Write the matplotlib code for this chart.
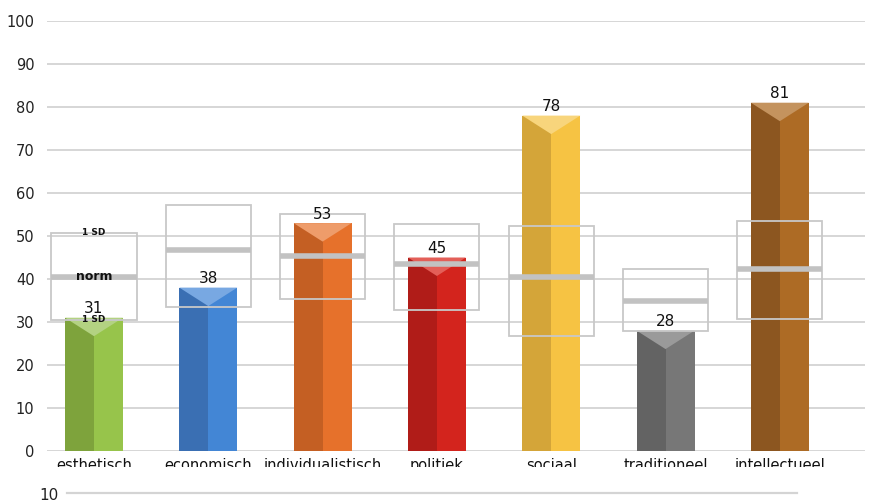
import numpy as np
import matplotlib.pyplot as plt
from matplotlib.patches import Rectangle, Polygon
from matplotlib.lines import Line2D

categories = ["esthetisch", "economisch", "individualistisch", "politiek",
              "sociaal", "traditioneel", "intellectueel"]
scores = [31, 38, 53, 45, 78, 28, 81]
norm = [40.5, 46.7, 45.3, 43.5, 40.5, 34.9, 42.3]
sd_high = [50.7, 57.2, 55.1, 52.8, 52.3, 42.3, 53.5]
sd_low = [30.5, 33.5, 35.3, 32.8, 26.7, 27.9, 30.7]
yticks = [0, 10, 20, 30, 40, 50, 60, 70, 80, 90, 100]

left_col = ["#7ea33c", "#3a6fb3", "#c45f23", "#b01c18", "#d4a539", "#636363", "#8c5620"]
right_col = ["#97c44b", "#4386d5", "#e6712b", "#d3241d", "#f6c343", "#777777", "#ad6b25"]
top_col = ["#b3d282", "#78a8e2", "#ee9c6a", "#e35f58", "#f8d57c", "#9a9a9a", "#c4935e"]

W, H = 870, 503
fig = plt.figure(figsize=(W / 100, H / 100), dpi=100)
ax = fig.add_axes([47 / W, (H - 451) / H, (865 - 47) / W, (451 - 21) / H])

ax.set_xlim(-0.411, 6.745)
ax.set_ylim(0, 100)
for s in ax.spines.values():
    s.set_visible(False)
ax.set_yticks(yticks)
ax.set_yticklabels([str(t) for t in yticks], fontsize=10.5, color="#222222")
ax.tick_params(axis="y", length=0, pad=9)
ax.set_xticks(range(len(categories)))
ax.set_xticklabels(categories, fontsize=10.5, color="#111111")
ax.tick_params(axis="x", length=0, pad=5)
ax.grid(axis="y", color="#d6d6d6", linewidth=1.4, zorder=0)
ax.set_axisbelow(True)

bw = 0.507
bx = 0.745
tri = 4.3
for i, v in enumerate(scores):
    x0 = i - bw / 2
    ax.add_patch(Rectangle((x0, 0), bw / 2, v, facecolor=left_col[i], edgecolor="none", zorder=2))
    ax.add_patch(Rectangle((i, 0), bw / 2, v, facecolor=right_col[i], edgecolor="none", zorder=2))
    ax.add_patch(Polygon([(x0, v), (x0 + bw, v), (i, v - tri)], closed=True,
                         facecolor=top_col[i], edgecolor="none", zorder=3))
    ax.annotate(str(v), (i, v), xytext=(0, 1), textcoords="offset points",
                ha="center", va="bottom", fontsize=11, color="#111111", zorder=6)
    # norm box
    ax.add_patch(Rectangle((i - bx / 2, sd_low[i]), bx, sd_high[i] - sd_low[i],
                           facecolor="none", edgecolor="#c8c8c8", linewidth=1.3, zorder=4))
    ax.plot([i - bx / 2, i + bx / 2], [norm[i], norm[i]], color="#c2c2c2",
            linewidth=4, solid_capstyle="butt", zorder=5)

ax.text(0, sd_high[0], "1 SD", ha="center", va="center", fontsize=6.5,
        fontweight="bold", color="#111111", zorder=7)
ax.text(0, sd_low[0], "1 SD", ha="center", va="center", fontsize=6.5,
        fontweight="bold", color="#111111", zorder=7)
ax.text(0, norm[0], "norm", ha="center", va="center", fontsize=9,
        fontweight="bold", color="#111111", zorder=7)

# cut-off bottom of the labels and start of the next chart
fig.patches.append(Rectangle((0, (H - 486) / H), 1, 19 / H, transform=fig.transFigure,
                             facecolor="white", edgecolor="none", zorder=10))
fig.text(49 / W, (H - 495) / H, "10", ha="center", va="center", fontsize=11,
         color="#222222", zorder=11)
fig.lines.append(Line2D([67 / W, 797 / W], [(H - 493) / H] * 2, transform=fig.transFigure,
                        color="#d4d4d4", linewidth=1.6, zorder=11))

fig.savefig("out.png", dpi=100)
